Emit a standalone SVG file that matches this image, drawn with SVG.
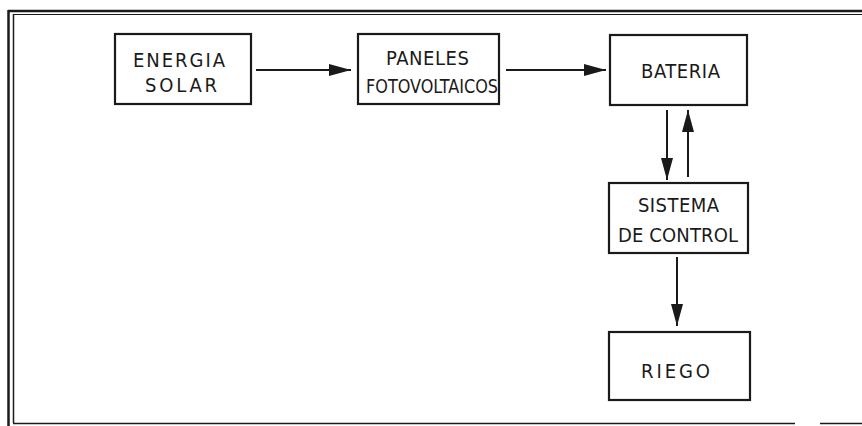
<svg xmlns="http://www.w3.org/2000/svg" width="862" height="426" viewBox="0 0 862 426">
<style>
.box{fill:#fff;stroke:#1a1a1a;stroke-width:2.2}
.lbl{font-family:"DejaVu Sans Condensed","DejaVu Sans",sans-serif;font-size:20px;fill:#1a1a1a;text-anchor:start}
.conn{stroke:#1a1a1a;stroke-width:2;fill:none}
.frame{stroke:#1a1a1a;fill:none}
</style>
<defs>
<marker id="ah" markerWidth="22" markerHeight="12" refX="22" refY="6" orient="auto" markerUnits="userSpaceOnUse">
<path d="M0,0 L22,6 L0,12 Z" fill="#1a1a1a"/>
</marker>
</defs>
<rect width="862" height="426" fill="#fff"/>
<g id="frame">
<line class="frame" x1="8" y1="11" x2="862" y2="11" stroke-width="2.5"/>
<line class="frame" x1="13" y1="14.5" x2="862" y2="14.5" stroke-width="1.2"/>
<line class="frame" x1="8.5" y1="10" x2="8.5" y2="426" stroke-width="2.5"/>
<line class="frame" x1="13.5" y1="14" x2="13.5" y2="423" stroke-width="1.5"/>
<line class="frame" x1="13" y1="423.5" x2="795" y2="423.5" stroke-width="1.5"/>
<line class="frame" x1="820" y1="423.5" x2="862" y2="423.5" stroke-width="1.5"/>
</g>
<g id="connectors">
<line class="conn" x1="256" y1="70" x2="351" y2="70" marker-end="url(#ah)"/>
<line class="conn" x1="506" y1="70" x2="606" y2="70" marker-end="url(#ah)"/>
<line class="conn" x1="667" y1="110" x2="667" y2="180" marker-end="url(#ah)"/>
<line class="conn" x1="688" y1="177" x2="688" y2="110" marker-end="url(#ah)"/>
<line class="conn" x1="677" y1="257" x2="677" y2="326" marker-end="url(#ah)"/>
</g>
<g id="energia-solar">
<rect class="box" x="115" y="34" width="136" height="70"/>
<text class="lbl" x="133" y="67" textLength="92" lengthAdjust="spacing">ENERGIA</text>
<text class="lbl" x="145" y="92" textLength="72" lengthAdjust="spacing">SOLAR</text>
</g>
<g id="paneles">
<rect class="box" x="358" y="34" width="141" height="70"/>
<text class="lbl" x="386" y="65" textLength="83" lengthAdjust="spacing">PANELES</text>
<text class="lbl" x="366" y="93" textLength="132" lengthAdjust="spacingAndGlyphs">FOTOVOLTAICOS</text>
</g>
<g id="bateria">
<rect class="box" x="610" y="35" width="137" height="70"/>
<text class="lbl" x="641" y="78" textLength="79" lengthAdjust="spacing">BATERIA</text>
</g>
<g id="sistema-control">
<rect class="box" x="609" y="183" width="139" height="70"/>
<text class="lbl" x="638" y="212" textLength="81" lengthAdjust="spacing">SISTEMA</text>
<text class="lbl" x="618" y="242" textLength="120" lengthAdjust="spacing">DE CONTROL</text>
</g>
<g id="riego">
<rect class="box" x="609" y="332" width="141" height="68"/>
<text class="lbl" x="641" y="378" textLength="69" lengthAdjust="spacing">RIEGO</text>
</g>
</svg>
